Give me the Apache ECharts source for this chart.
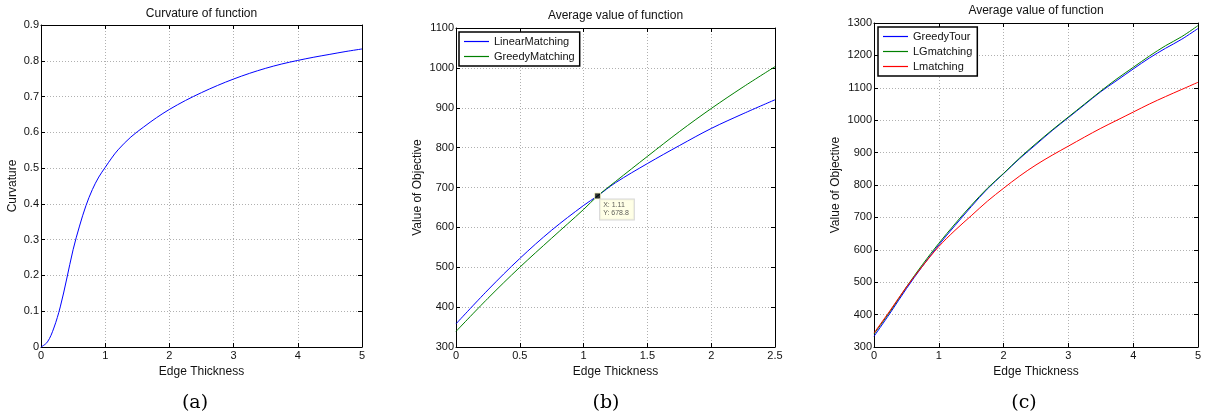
<!DOCTYPE html>
<html><head><meta charset="utf-8">
<script src="https://cdn.jsdelivr.net/npm/echarts@6/dist/echarts.min.js"></script>
<style>html,body{margin:0;padding:0;background:#fff}#c{width:1205px;height:417px}</style>
</head><body><div id="c"></div>
<script>
// ---- Data ----
const aX = [0,0.1,0.2,0.3,0.4,0.5,0.6,0.7,0.8,0.9,1.0,1.1,1.2,1.4,1.6,1.8,2.0,2.25,2.5,2.75,3.0,3.25,3.5,3.75,4.0,4.25,4.5,4.75,5.0];
const aCurv = [0,0.014,0.053,0.112,0.19,0.272,0.338,0.395,0.44,0.475,0.502,0.528,0.551,0.587,0.615,0.641,0.664,0.689,0.711,0.731,0.749,0.765,0.779,0.791,0.801,0.81,0.818,0.826,0.833];

const bX = [0,0.25,0.5,0.75,1.0,1.11,1.25,1.5,1.75,2.0,2.25,2.5];
const bLinear = [358,443,522,593,655,679,712,760,805,848,885,920];
const bGreedy = [339,422,500,573,645,679,715,778,840,898,952,1003];
const bTip = [1.11, 678.8];

const cX = [0,0.25,0.5,0.75,1.0,1.25,1.5,1.75,2.0,2.25,2.5,2.75,3.0,3.25,3.5,3.75,4.0,4.25,4.5,4.75,5.0];
const cGreedyTour = [333,405,480,550,615,675,733,788,835,882,925,968,1008,1048,1088,1123,1158,1192,1222,1250,1283];
const cLG = [340,410,485,555,620,680,737,790,836,884,928,970,1010,1050,1090,1128,1163,1198,1230,1258,1292];
const cL = [343,413,485,550,610,660,705,750,790,828,862,892,920,948,975,1000,1025,1050,1073,1095,1117];

const titles = ['Curvature of function','Average value of function','Average value of function'];
const yNames = ['Curvature','Value of Objective','Value of Objective'];
const xName = 'Edge Thickness';
const captions = ['(a)','(b)','(c)'];

// ---- Layout ----
const FONT = 'Liberation Sans, Arial, sans-serif';
const BLUE = '#0000ff', GREEN = '#008000', RED = '#ff0000';
const grids = [
  {left:41, top:25, width:321, height:322},
  {left:456, top:28, width:319, height:319},
  {left:874, top:23, width:324, height:324}
];
const xr = [{min:0,max:5,interval:1},{min:0,max:2.5,interval:0.5},{min:0,max:5,interval:1}];
const yr = [{min:0,max:0.9,interval:0.1},{min:300,max:1100,interval:100},{min:300,max:1300,interval:100}];
const zip = (xs, ys) => xs.map((x,i)=>[x, ys[i]]);
const plain = v => String(Math.round(v*1000)/1000);

const xAxis = [], yAxis = [];
grids.forEach((g,i)=>{
  const base = {gridIndex:i, type:'value', axisLine:{show:true,onZero:false,lineStyle:{color:'#000',width:1}},
    axisTick:{show:true,inside:true,length:4,lineStyle:{color:'#000'}}};
  xAxis.push(Object.assign({}, base, xr[i], {position:'bottom', name:xName, nameLocation:'middle', nameGap:15,
    nameTextStyle:{fontFamily:FONT,fontSize:12,color:'#111'},
    axisLabel:{fontFamily:FONT,fontSize:11,color:'#111',margin:3,formatter:plain},
    splitLine:{show:true,lineStyle:{color:'#b0b0b0',type:[1,2],width:1}}}));
  xAxis.push(Object.assign({}, base, xr[i], {position:'top', axisLabel:{show:false}, splitLine:{show:false}}));
  yAxis.push(Object.assign({}, base, yr[i], {position:'left', name:yNames[i], nameLocation:'middle', nameGap: i===0?22:32,
    nameTextStyle:{fontFamily:FONT,fontSize:12,color:'#111'},
    axisLabel:{fontFamily:FONT,fontSize:11,color:'#111',margin:2,formatter:plain},
    splitLine:{show:true,lineStyle:{color:'#b0b0b0',type:[1,2],width:1}}}));
  yAxis.push(Object.assign({}, base, yr[i], {position:'right', axisLabel:{show:false}, splitLine:{show:false}}));
});

const line = (name, gi, data, color) => ({name, type:'line', xAxisIndex:gi*2, yAxisIndex:gi*2, data, symbol:'none',
  showSymbol:false, smooth:0.35, color, lineStyle:{color, width:1}, itemStyle:{color}, animation:false, silent:true});

const series = [
  line('Curvature', 0, zip(aX, aCurv), BLUE),
  line('LinearMatching', 1, zip(bX, bLinear), BLUE),
  line('GreedyMatching', 1, zip(bX, bGreedy), GREEN),
  line('GreedyTour', 2, zip(cX, cGreedyTour), BLUE),
  line('LGmatching', 2, zip(cX, cLG), GREEN),
  line('Lmatching', 2, zip(cX, cL), RED),
  {name:'tip', type:'scatter', xAxisIndex:2, yAxisIndex:2, data:[bTip], symbol:'rect', symbolSize:6,
   itemStyle:{color:'#000', borderColor:'#ffffcc', borderWidth:1}, animation:false, silent:true, z:5,
   label:{show:true, position:[6,7], formatter:p=>'X: '+p.value[0]+'\nY: '+p.value[1],
     fontFamily:FONT, fontSize:7, color:'#333', lineHeight:8, backgroundColor:'#ffffe0',
     borderColor:'#ccc', borderWidth:1, padding:[2,5,2,3]}}
];

const legendBase = {orient:'vertical', itemWidth:25, itemHeight:1.2, itemGap:2, padding:[3,5],
  borderColor:'#000', borderWidth:1.5, backgroundColor:'#fff', selectedMode:false,
  textStyle:{fontFamily:FONT,fontSize:11,color:'#111', lineHeight:13}};
const li = (name, color) => ({name, icon:'rect', itemStyle:{color, opacity:1, borderWidth:0}});
const legend = [
  Object.assign({}, legendBase, {left:459, top:32, data:[li('LinearMatching',BLUE), li('GreedyMatching',GREEN)]}),
  Object.assign({}, legendBase, {left:878, top:27, data:[li('GreedyTour',BLUE), li('LGmatching',GREEN), li('Lmatching',RED)]})
];

const graphic = [];
const titleY = [14,16,11];
grids.forEach((g,i)=>{
  graphic.push({type:'text', x:g.left+g.width/2, y:titleY[i], style:{text:titles[i], fontFamily:FONT, fontSize:12, fill:'#111', textAlign:'center', textVerticalAlign:'middle'}});
});
const capX = [195,606,1024];
capX.forEach((x,i)=>{
  graphic.push({type:'text', x, y:403, style:{text:captions[i], fontFamily:'DejaVu Serif, serif', fontSize:19, fill:'#000', textAlign:'center', textVerticalAlign:'middle'}});
});

const chart = echarts.init(document.getElementById('c'));
chart.setOption({animation:false, backgroundColor:'#fff',
  grid: grids.map(g=>Object.assign({containLabel:false}, g)),
  xAxis, yAxis, series, legend, graphic});
</script></body></html>
